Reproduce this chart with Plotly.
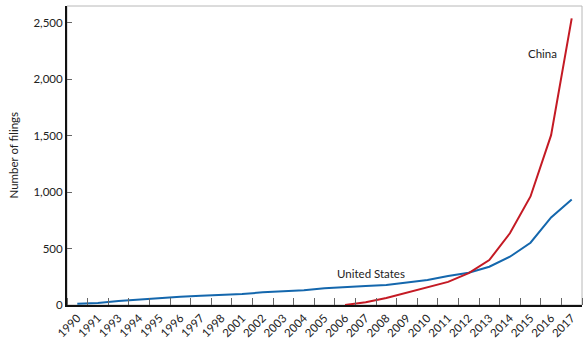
import plotly.graph_objects as go

years = ["1990", "1991", "1993", "1994", "1995", "1996", "1997", "1998", "2001", "2002",
         "2003", "2004", "2005", "2006", "2007", "2008", "2009", "2010", "2011", "2012",
         "2013", "2014", "2015", "2016", "2017"]
us_values = [10, 18, 35, 50, 64, 74, 82, 88, 97, 112,
             118, 130, 148, 160, 168, 177, 197, 221, 257, 286,
             339, 428, 552, 776, 935]
china_years = ["2006", "2007", "2008", "2009", "2010", "2011", "2012",
               "2013", "2014", "2015", "2016", "2017"]
china_values = [0, 25, 62, 110, 152, 205, 282, 398, 636, 962, 1505, 2540]
y_ticks = [0, 500, 1000, 1500, 2000, 2500]
y_ticklabels = ["0", "500", "1,000", "1,500", "2,000", "2,500"]

BLUE = "#1467ad"
RED = "#c41a24"
FONT = "Lato, 'Open Sans', sans-serif"

idx = list(range(len(years)))
china_idx = [years.index(y) for y in china_years]

fig = go.Figure()
fig.add_trace(go.Scatter(x=idx, y=us_values, mode="lines",
                         line=dict(color=BLUE, width=2), name="United States"))
fig.add_trace(go.Scatter(x=china_idx, y=china_values, mode="lines",
                         line=dict(color=RED, width=2), name="China"))

fig.add_shape(type="rect", xref="paper", yref="paper", x0=0, x1=1, y0=0, y1=1,
              line=dict(color="#b8b8b8", width=1), layer="below")

fig.add_annotation(x=14.26, y=283, xref="x", yref="y", text="United States",
                   showarrow=False, font=dict(family=FONT, size=11.5, color="#222"))
fig.add_annotation(x=22.6, y=2233, xref="x", yref="y", text="China",
                   showarrow=False, font=dict(family=FONT, size=11.5, color="#222"))
fig.add_annotation(x=-54 / 515, y=0.5, xref="paper", yref="paper", text="Number of filings",
                   textangle=-90, showarrow=False, xanchor="center", yanchor="middle",
                   font=dict(family=FONT, size=11.5, color="#222"))

fig.update_layout(
    template="none",
    width=588, height=341,
    margin=dict(l=67, r=6, t=6, b=36, autoexpand=False),
    paper_bgcolor="white", plot_bgcolor="white",
    showlegend=False,
    font=dict(family=FONT, size=11, color="#222"),
)
fig.update_xaxes(
    automargin=False,
    range=[-0.5, len(years) - 0.5],
    tickmode="array", tickvals=idx, ticktext=years,
    tickangle=-45, ticks="",
    minor=dict(tickmode="linear", tick0=0.5, dtick=1, ticks="inside",
               ticklen=7, tickcolor="#666", tickwidth=1, showgrid=False),
    showline=True, linecolor="#111", linewidth=2,
    showgrid=False, zeroline=False,
    tickfont=dict(family=FONT, size=11.5, color="#222"),
)
fig.update_yaxes(
    automargin=False,
    range=[0, 2650],
    tickmode="array", tickvals=y_ticks, ticktext=y_ticklabels,
    ticks="inside", ticklen=5, tickcolor="#666", tickwidth=1,
    showline=True, linecolor="#111", linewidth=2,
    showgrid=False, zeroline=False,
    tickfont=dict(family=FONT, size=11.5, color="#222"),
)

fig.write_html("out.html")
